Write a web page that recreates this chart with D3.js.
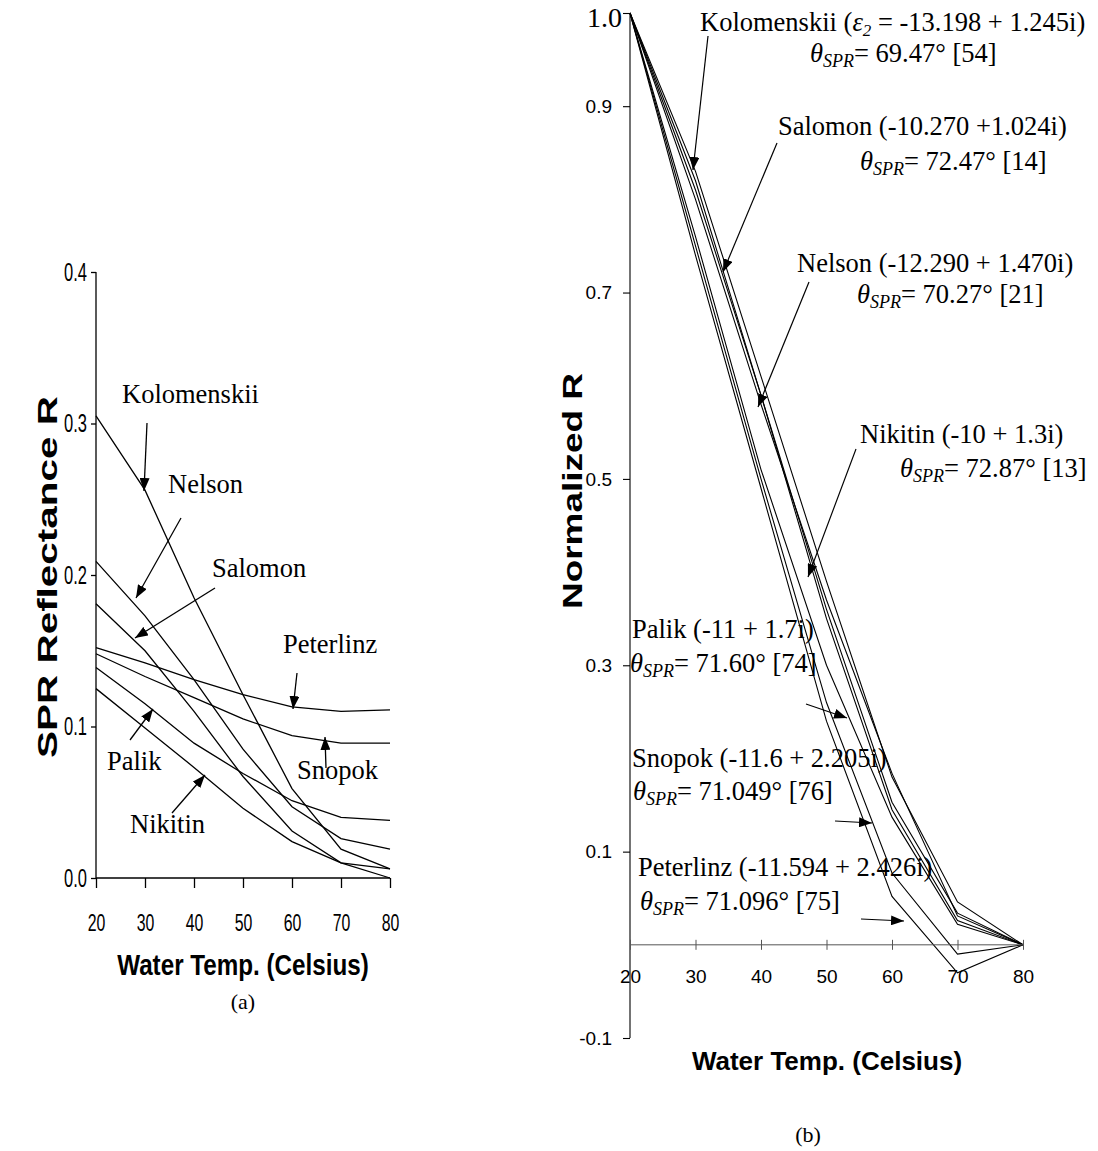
<!DOCTYPE html>
<html>
<head>
<meta charset="utf-8">
<script src="https://cdn.jsdelivr.net/npm/d3@7"></script>
<style>
  body { margin: 0; background: #fff; }
  svg text { fill: #000; }
  .serif { font-family: "Liberation Serif", "Times New Roman", serif; }
  .sans { font-family: "Liberation Sans", Arial, sans-serif; }
</style>
</head>
<body>
<script>
// water temperature (Celsius)
var temps = [20, 30, 40, 50, 60, 70, 80];

// (a) SPR reflectance R
var kolomenskiiR = [0.305, 0.256, 0.185, 0.121, 0.059, 0.019, 0.006];
var nelsonR      = [0.209, 0.173, 0.131, 0.085, 0.047, 0.026, 0.019];
var salomonR     = [0.181, 0.150, 0.110, 0.067, 0.031, 0.010, 0.006];
var peterlinzR   = [0.152, 0.142, 0.131, 0.121, 0.113, 0.110, 0.111];
var snopokR      = [0.148, 0.133, 0.119, 0.105, 0.094, 0.089, 0.089];
var palikR       = [0.139, 0.115, 0.089, 0.069, 0.051, 0.040, 0.038];
var nikitinR     = [0.125, 0.099, 0.073, 0.046, 0.024, 0.010, 0.000];

// (b) normalized R
var kolomenskiiN = [1, 0.83, 0.61, 0.39, 0.180, 0.046, 0];
var nelsonN      = [1, 0.81, 0.59, 0.36, 0.153, 0.034, 0];
var salomonN     = [1, 0.82, 0.59, 0.35, 0.145, 0.026, 0];
var nikitinN     = [1, 0.80, 0.58, 0.37, 0.184, 0.031, 0];
var palikN       = [1, 0.76, 0.51, 0.30, 0.137, 0.022, 0];
var snopokN      = [1, 0.75, 0.50, 0.26, 0.077, -0.010, 0];
var peterlinzN   = [1, 0.74, 0.49, 0.24, 0.052, -0.030, 0];

var leftTicks = [0, 0.1, 0.2, 0.3, 0.4];
var rightTicks = [-0.1, 0.1, 0.3, 0.5, 0.7, 0.9];

var seriesA = [kolomenskiiR, nelsonR, salomonR, peterlinzR, snopokR, palikR, nikitinR];
var seriesB = [kolomenskiiN, nelsonN, salomonN, nikitinN, palikN, snopokN, peterlinzN];

var svg = d3.select('body')
  .append('svg')
  .attr('width', 1098)
  .attr('height', 1151)

svg.append('defs').append('marker')
  .attr('id', 'arrow')
  .attr('markerUnits', 'userSpaceOnUse')
  .attr('viewBox', '0 0 13 10')
  .attr('refX', 13)
  .attr('refY', 5)
  .attr('markerWidth', 13)
  .attr('markerHeight', 10)
  .attr('orient', 'auto')
  .append('path')
  .attr('d', 'M0,0 L13,5 L0,10 z')
  .attr('fill', '#000')

// the left panel was squeezed sideways, so its sans text is narrow
function squeeze(sel, k) {
  sel.each(function() {
    var len = this.getComputedTextLength()
    d3.select(this).attr('textLength', len * k).attr('lengthAdjust', 'spacingAndGlyphs')
  })
}

// ---------- panel (a) ----------
var xA = d3.scaleLinear().domain([20, 80]).range([96, 390])
var yA = d3.scaleLinear().domain([0, 0.4]).range([878, 272])

var lineA = d3.line()
  .x((d, i) => xA(temps[i]))
  .y(d => yA(d))

svg.append('g')
  .selectAll('path')
  .data(seriesA)
  .enter()
    .append('path')
    .attr('d', lineA)
    .attr('fill', 'none')
    .attr('stroke', '#000')
    .attr('stroke-width', 1.3)

var axA = svg.append('g')
  .attr('transform', 'translate(96,0)')
  .call(d3.axisLeft(yA).tickValues(leftTicks).tickSize(5).tickPadding(4).tickFormat(d => d.toFixed(1)))
axA.select('.domain').attr('d', 'M0,' + yA(0.4) + 'V' + yA(0))
axA.selectAll('text').attr('class', 'sans').attr('font-size', 25)
squeeze(axA.selectAll('text'), 0.66)

var axAx = svg.append('g')
  .attr('transform', 'translate(0,878)')
  .call(d3.axisBottom(xA).tickValues(temps).tickSize(10).tickFormat(d => d))
axAx.select('.domain').attr('d', 'M' + xA(20) + ',0H' + xA(80))
axAx.selectAll('text').attr('class', 'sans').attr('font-size', 24).attr('y', 36)
squeeze(axAx.selectAll('text'), 0.66)
svg.selectAll('.domain, .tick line').attr('stroke', '#000').attr('stroke-width', 1.3)
svg.selectAll('g').attr('font-family', null)

svg.append('text')
  .attr('class', 'sans')
  .attr('transform', 'translate(57,577) rotate(-90)')
  .attr('text-anchor', 'middle')
  .attr('font-size', 27)
  .attr('font-weight', 'bold')
  .attr('textLength', 362)
  .attr('lengthAdjust', 'spacingAndGlyphs')
  .text('SPR Reflectance R')

var xTitleA = svg.append('text')
  .attr('class', 'sans')
  .attr('x', 243).attr('y', 975)
  .attr('text-anchor', 'middle')
  .attr('font-size', 29)
  .attr('font-weight', 'bold')
  .text('Water Temp. (Celsius)')
squeeze(xTitleA, 0.835)

svg.append('text')
  .attr('class', 'serif')
  .attr('x', 243).attr('y', 1009)
  .attr('text-anchor', 'middle')
  .attr('font-size', 22)
  .text('(a)')

var labelsA = [
  {t: 'Kolomenskii', x: 122, y: 403, a: [147, 423, 144, 491]},
  {t: 'Nelson', x: 168, y: 493, a: [181, 518, 136, 598]},
  {t: 'Salomon', x: 212, y: 577, a: [215, 588, 135, 638]},
  {t: 'Peterlinz', x: 283, y: 653, a: [297, 673, 293, 709]},
  {t: 'Snopok', x: 297, y: 779, a: [326, 768, 325, 737]},
  {t: 'Palik', x: 107, y: 770, a: [130, 740, 153, 709]},
  {t: 'Nikitin', x: 130, y: 833, a: [172, 813, 205, 775]}
]
labelsA.forEach(function(l) {
  svg.append('text')
    .attr('class', 'serif')
    .attr('x', l.x).attr('y', l.y)
    .attr('font-size', 26.5)
    .text(l.t)
  svg.append('line')
    .attr('x1', l.a[0]).attr('y1', l.a[1])
    .attr('x2', l.a[2]).attr('y2', l.a[3])
    .attr('stroke', '#000').attr('stroke-width', 1.3)
    .attr('marker-end', 'url(#arrow)')
})

// ---------- panel (b) ----------
var xB = d3.scaleLinear().domain([20, 80]).range([630, 1023])
var yB = d3.scaleLinear().domain([-0.1, 1.0]).range([1038, 13])

var lineB = d3.line()
  .x((d, i) => xB(temps[i]))
  .y(d => yB(d))

svg.append('g')
  .selectAll('path')
  .data(seriesB)
  .enter()
    .append('path')
    .attr('d', lineB)
    .attr('fill', 'none')
    .attr('stroke', '#000')
    .attr('stroke-width', 1.1)

var axB = svg.append('g')
  .attr('transform', 'translate(630,0)')
  .call(d3.axisLeft(yB).tickValues(rightTicks.concat([1.0])).tickSize(7).tickPadding(11).tickFormat(d => d === 1 ? '' : d.toFixed(1)))
axB.attr('font-family', null)
axB.select('.domain').attr('d', 'M0,' + yB(1.0) + 'V' + yB(-0.1))
axB.selectAll('text').attr('class', 'sans').attr('font-size', 19)

var axBx = svg.append('g')
  .attr('transform', 'translate(0,' + yB(0) + ')')
  .call(d3.axisBottom(xB).tickValues(temps).tickSize(5).tickFormat(d => d))
axBx.attr('font-family', null)
axBx.select('.domain').attr('d', 'M' + xB(20) + ',0H' + xB(80)).attr('stroke', '#555')
axBx.selectAll('.tick line').attr('y1', -5).attr('y2', 5).attr('stroke', '#555')
axBx.selectAll('text').attr('class', 'sans').attr('font-size', 19).attr('y', 25)
axB.selectAll('.domain, .tick line').attr('stroke', '#000').attr('stroke-width', 1.1)

svg.append('text')
  .attr('class', 'serif')
  .attr('x', 622).attr('y', 27)
  .attr('text-anchor', 'end')
  .attr('font-size', 28)
  .text('1.0')

svg.append('text')
  .attr('class', 'sans')
  .attr('transform', 'translate(582,491) rotate(-90)')
  .attr('text-anchor', 'middle')
  .attr('font-size', 27)
  .attr('font-weight', 'bold')
  .attr('textLength', 236)
  .attr('lengthAdjust', 'spacingAndGlyphs')
  .text('Normalized R')

svg.append('text')
  .attr('class', 'sans')
  .attr('x', 827).attr('y', 1070)
  .attr('text-anchor', 'middle')
  .attr('font-size', 26)
  .attr('font-weight', 'bold')
  .text('Water Temp. (Celsius)')

svg.append('text')
  .attr('class', 'serif')
  .attr('x', 808).attr('y', 1142)
  .attr('text-anchor', 'middle')
  .attr('font-size', 22)
  .text('(b)')

// name line, theta line, arrow
var labelsB = [
  {n: 'Kolomenskii (', eps: true, rest: ' = -13.198 + 1.245i)', nx: 700, ny: 31, th: '69.47° [54]', tx: 810, ty: 62, a: [708, 36, 693, 170]},
  {n: 'Salomon (-10.270 +1.024i)', nx: 778, ny: 135, th: '72.47° [14]', tx: 860, ty: 170, a: [777, 143, 723, 272]},
  {n: 'Nelson (-12.290 + 1.470i)', nx: 797, ny: 272, th: '70.27° [21]', tx: 857, ty: 303, a: [809, 282, 758, 407]},
  {n: 'Nikitin (-10 + 1.3i)', nx: 860, ny: 443, th: '72.87° [13]', tx: 900, ty: 477, a: [856, 449, 808, 577]},
  {n: 'Palik (-11 + 1.7i)', nx: 632, ny: 638, th: '71.60° [74]', tx: 630, ty: 672, a: [806, 704, 847, 718]},
  {n: 'Snopok (-11.6 + 2.205i)', nx: 632, ny: 767, th: '71.049° [76]', tx: 633, ty: 800, a: [835, 821, 872, 823]},
  {n: 'Peterlinz (-11.594 + 2.426i)', nx: 638, ny: 876, th: '71.096° [75]', tx: 640, ty: 910, a: [861, 919, 904, 921]}
]
labelsB.forEach(function(l) {
  var t = svg.append('text')
    .attr('class', 'serif')
    .attr('x', l.nx).attr('y', l.ny)
    .attr('font-size', 26.5)
  t.append('tspan').text(l.n)
  if (l.eps) {
    t.append('tspan').attr('font-style', 'italic').text('ε')
    t.append('tspan').attr('font-style', 'italic').attr('font-size', 17).attr('dy', 5).text('2')
    t.append('tspan').attr('dy', -5).text(l.rest)
  }
  var th = svg.append('text')
    .attr('class', 'serif')
    .attr('x', l.tx).attr('y', l.ty)
    .attr('font-size', 26.5)
  th.append('tspan').attr('font-style', 'italic').text('θ')
  th.append('tspan').attr('font-style', 'italic').attr('font-size', 18).attr('dy', 5).text('SPR')
  th.append('tspan').attr('dy', -5).text('= ' + l.th)
  svg.append('line')
    .attr('x1', l.a[0]).attr('y1', l.a[1])
    .attr('x2', l.a[2]).attr('y2', l.a[3])
    .attr('stroke', '#000').attr('stroke-width', 1.2)
    .attr('marker-end', 'url(#arrow)')
})
</script>
</body>
</html>
